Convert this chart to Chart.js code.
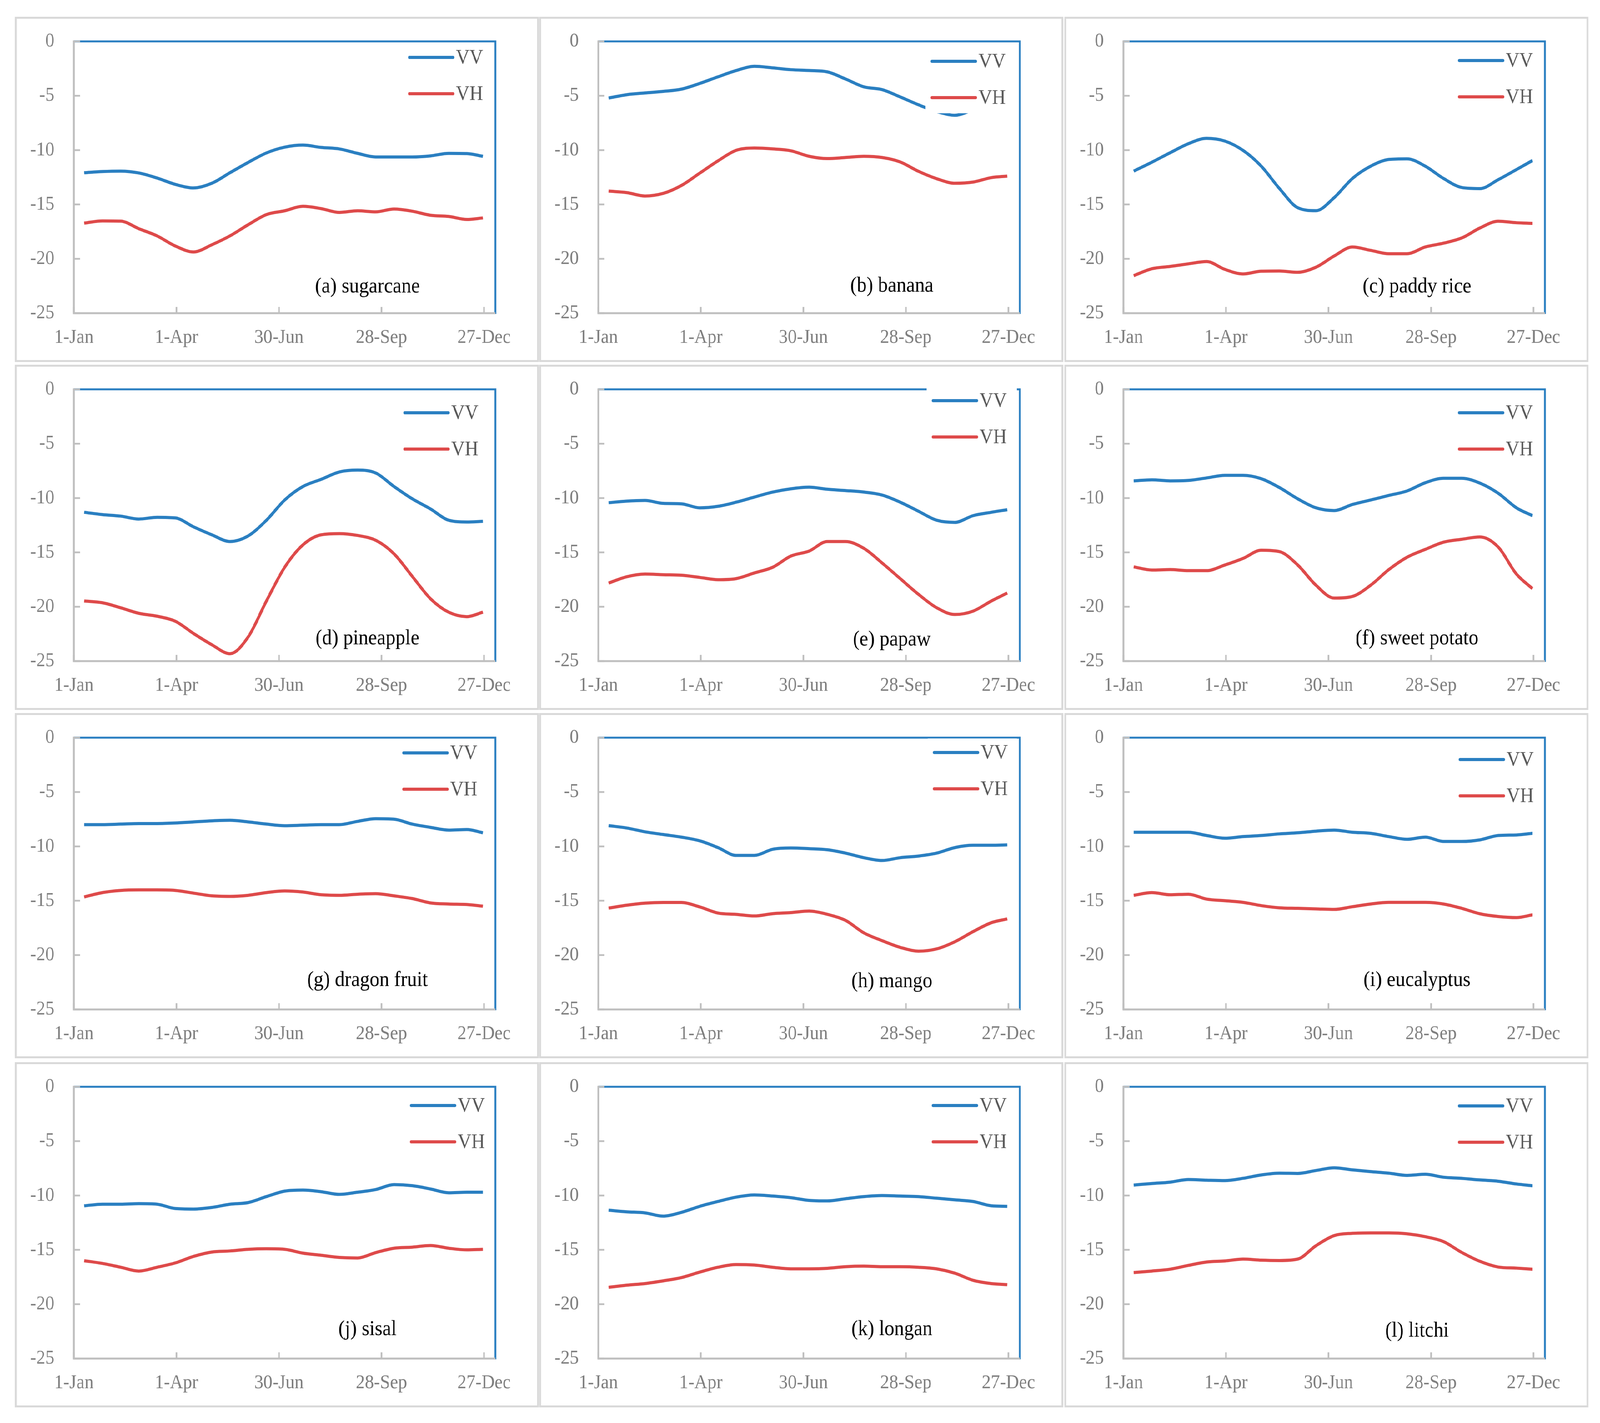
<!DOCTYPE html>
<html lang="en">
<head>
<meta charset="UTF-8">
<title>VV / VH profiles by crop</title>
<script src="https://cdn.jsdelivr.net/npm/chart.js"></script>
<style>
  html, body { margin: 0; background: #fff; overflow: hidden; }
  .viewport { position: relative; width: 100vw; height: 100vh; overflow: hidden; }
  .wrap { position: absolute; left: 0; top: 0; width: 4415px; height: 3644px; transform-origin: 0 0; }
  .panel {
    position: absolute;
    width: 1446px;
    height: 884px;
    box-sizing: border-box;
    border: 5px solid #d9d9d9;
    background: #fff;
  }
  .panel canvas { display: block; }
</style>
</head>
<body>
<div class="viewport"><div class="wrap" id="wrap"></div></div>
<script>
// sample dates (day of year) and axis ticks
const days = [10, 26, 42, 58, 74, 90, 106, 122, 138, 154, 170, 186, 202, 218, 234, 250, 266, 282, 298, 314, 330, 346, 360];
const tickDays = [1, 91, 181, 271, 361];
const tickLabels = ['1-Jan', '1-Apr', '30-Jun', '28-Sep', '27-Dec'];

const sugarcaneVV = [-12.08, -11.97, -11.93, -12.1, -12.57, -13.15, -13.48, -13.05, -12.08, -11.13, -10.26, -9.73, -9.54, -9.75, -9.89, -10.3, -10.63, -10.63, -10.63, -10.53, -10.3, -10.32, -10.57];
const sugarcaneVH = [-16.71, -16.51, -16.53, -17.23, -17.89, -18.82, -19.37, -18.71, -17.89, -16.86, -15.93, -15.58, -15.17, -15.38, -15.73, -15.58, -15.68, -15.42, -15.62, -15.99, -16.1, -16.38, -16.24];
const bananaVV = [-5.21, -4.9, -4.74, -4.6, -4.39, -3.87, -3.26, -2.68, -2.29, -2.43, -2.6, -2.68, -2.8, -3.46, -4.18, -4.43, -5.11, -5.83, -6.45, -6.8, -6.3, -5.8, -5.4];
const bananaVH = [-13.77, -13.91, -14.22, -13.98, -13.25, -12.12, -10.99, -10.02, -9.81, -9.89, -10.06, -10.57, -10.78, -10.68, -10.57, -10.68, -11.09, -11.95, -12.63, -13.05, -12.94, -12.53, -12.39];
const paddyVV = [-11.93, -11.11, -10.24, -9.41, -8.92, -9.17, -10.03, -11.48, -13.54, -15.3, -15.57, -14.37, -12.61, -11.48, -10.86, -10.8, -11.48, -12.61, -13.44, -13.54, -12.72, -11.79, -10.96];
const paddyVH = [-21.55, -20.91, -20.7, -20.46, -20.25, -20.97, -21.39, -21.14, -21.12, -21.24, -20.77, -19.74, -18.91, -19.22, -19.53, -19.53, -18.91, -18.56, -18.08, -17.16, -16.54, -16.68, -16.74];
const pineappleVV = [-11.31, -11.52, -11.66, -11.93, -11.77, -11.83, -12.65, -13.38, -14.0, -13.48, -12.04, -10.18, -8.94, -8.28, -7.6, -7.43, -7.7, -8.94, -10.07, -11.0, -12.04, -12.2, -12.14];
const pineappleVH = [-19.47, -19.63, -20.09, -20.6, -20.87, -21.33, -22.46, -23.49, -24.32, -22.77, -19.47, -16.37, -14.31, -13.38, -13.27, -13.44, -13.89, -15.13, -17.2, -19.26, -20.5, -20.91, -20.5];
const papawVV = [-10.43, -10.28, -10.22, -10.49, -10.53, -10.9, -10.76, -10.38, -9.91, -9.45, -9.15, -9.0, -9.19, -9.31, -9.45, -9.72, -10.38, -11.21, -12.04, -12.24, -11.62, -11.31, -11.07];
const papawVH = [-17.82, -17.24, -16.99, -17.05, -17.1, -17.3, -17.51, -17.41, -16.89, -16.37, -15.34, -14.88, -14.0, -14.0, -14.62, -15.96, -17.41, -18.85, -20.09, -20.71, -20.4, -19.47, -18.74];
const sweetPotatoVV = [-8.42, -8.32, -8.42, -8.38, -8.15, -7.91, -7.91, -8.22, -9.04, -10.07, -10.9, -11.15, -10.59, -10.18, -9.76, -9.35, -8.59, -8.18, -8.18, -8.63, -9.56, -10.9, -11.62];
const sweetPotatoVH = [-16.33, -16.62, -16.58, -16.68, -16.68, -16.16, -15.55, -14.8, -14.93, -16.16, -18.02, -19.2, -19.05, -18.02, -16.58, -15.44, -14.72, -14.06, -13.79, -13.58, -14.51, -16.99, -18.33];
const dragonFruitVV = [-8.0, -8.0, -7.95, -7.9, -7.9, -7.85, -7.75, -7.65, -7.6, -7.75, -7.95, -8.1, -8.05, -8.0, -8.0, -7.7, -7.45, -7.5, -7.95, -8.25, -8.5, -8.45, -8.75];
const dragonFruitVH = [-14.65, -14.25, -14.05, -14.0, -14.0, -14.05, -14.3, -14.55, -14.6, -14.5, -14.25, -14.1, -14.2, -14.45, -14.5, -14.4, -14.35, -14.55, -14.8, -15.2, -15.3, -15.35, -15.5];
const mangoVV = [-8.09, -8.31, -8.66, -8.91, -9.15, -9.49, -10.11, -10.83, -10.83, -10.27, -10.15, -10.21, -10.31, -10.62, -11.04, -11.3, -11.04, -10.89, -10.62, -10.11, -9.9, -9.9, -9.86];
const mangoVH = [-15.68, -15.41, -15.22, -15.16, -15.16, -15.57, -16.13, -16.25, -16.4, -16.19, -16.09, -15.95, -16.25, -16.81, -17.95, -18.67, -19.29, -19.64, -19.43, -18.77, -17.84, -17.02, -16.67];
const eucalyptusVV = [-8.7, -8.7, -8.7, -8.7, -9.0, -9.25, -9.1, -9.0, -8.85, -8.75, -8.6, -8.5, -8.7, -8.8, -9.1, -9.35, -9.15, -9.55, -9.55, -9.4, -9.0, -8.95, -8.8];
const eucalyptusVH = [-14.5, -14.25, -14.45, -14.4, -14.85, -15.0, -15.15, -15.45, -15.65, -15.7, -15.75, -15.8, -15.55, -15.3, -15.15, -15.15, -15.15, -15.3, -15.7, -16.2, -16.45, -16.55, -16.3];
const sisalVV = [-10.95, -10.8, -10.8, -10.75, -10.8, -11.2, -11.25, -11.1, -10.8, -10.65, -10.1, -9.6, -9.5, -9.65, -9.9, -9.7, -9.45, -9.0, -9.1, -9.4, -9.75, -9.7, -9.7];
const sisalVH = [-16.0, -16.25, -16.6, -16.95, -16.6, -16.2, -15.6, -15.2, -15.1, -14.95, -14.9, -14.95, -15.3, -15.5, -15.7, -15.75, -15.25, -14.85, -14.75, -14.6, -14.85, -15.0, -14.95];
const longanVV = [-11.35, -11.5, -11.6, -11.9, -11.55, -11.0, -10.55, -10.15, -9.95, -10.05, -10.2, -10.45, -10.5, -10.3, -10.1, -10.0, -10.05, -10.1, -10.25, -10.4, -10.55, -10.95, -11.0];
const longanVH = [-18.45, -18.25, -18.1, -17.85, -17.55, -17.05, -16.6, -16.35, -16.4, -16.6, -16.75, -16.75, -16.7, -16.55, -16.5, -16.55, -16.55, -16.6, -16.75, -17.15, -17.8, -18.1, -18.2];
const litchiVV = [-9.04, -8.9, -8.77, -8.53, -8.59, -8.63, -8.42, -8.11, -7.95, -7.97, -7.7, -7.45, -7.64, -7.8, -7.95, -8.15, -8.05, -8.32, -8.42, -8.57, -8.69, -8.94, -9.1];
const litchiVH = [-17.09, -16.95, -16.78, -16.43, -16.12, -16.02, -15.85, -15.95, -15.98, -15.85, -14.62, -13.69, -13.48, -13.44, -13.44, -13.52, -13.79, -14.24, -15.24, -16.06, -16.58, -16.68, -16.78];

const titles = ['(a) sugarcane', '(b) banana', '(c) paddy rice', '(d) pineapple', '(e) papaw', '(f) sweet potato',
                '(g) dragon fruit', '(h) mango', '(i) eucalyptus', '(j) sisal', '(k) longan', '(l) litchi'];
const vvSeries = [sugarcaneVV, bananaVV, paddyVV, pineappleVV, papawVV, sweetPotatoVV, dragonFruitVV, mangoVV, eucalyptusVV, sisalVV, longanVV, litchiVV];
const vhSeries = [sugarcaneVH, bananaVH, paddyVH, pineappleVH, papawVH, sweetPotatoVH, dragonFruitVH, mangoVH, eucalyptusVH, sisalVH, longanVH, litchiVH];

// layout (px): legend placement per panel, caption height per panel
const legendX = [237, 242, 236, 250, 239, 236, 253, 236, 234, 232, 239, 236];
const legendY = [41, 51, 49, 60, 29, 60, 39, 38, 56, 48, 48, 49];
const titleY = [629, 627, 629, 639, 642, 639, 622, 625, 622, 622, 622, 626];
const colLeft = [41, 1488, 2937];
const rowTop = [43, 934, 1826, 2720];

const BLUE = '#2a7fc1';
const RED = '#de4a4a';
const AXIS_GRAY = '#bfbfbf';
const SERIF = '"Liberation Serif", "Times New Roman", serif';

Chart.defaults.font.family = SERIF;

// the figure is laid out at 4415 x 3644 and stretched to fill whatever viewport we get
const sx = window.innerWidth / 4415;
const sy = window.innerHeight / 3644;
const wrap = document.getElementById('wrap');
wrap.style.transform = 'scale(' + sx + ',' + sy + ')';
const pixelRatio = Math.max(1, Math.max(sx, sy) * (window.devicePixelRatio || 1));

// axis lines drawn by hand: gray left/bottom, blue top/right, inner tick marks
const framePlugin = {
    id: 'frame',
    beforeDatasetsDraw(chart) {
        const { ctx, chartArea: a, scales } = chart;
        ctx.save();
        ctx.lineWidth = 5;
        ctx.strokeStyle = BLUE;
        ctx.beginPath();
        ctx.moveTo(a.left, a.top);
        ctx.lineTo(a.right, a.top);
        ctx.lineTo(a.right, a.bottom + 2);
        ctx.stroke();

        ctx.strokeStyle = AXIS_GRAY;
        ctx.beginPath();
        ctx.moveTo(a.left, a.top - 2.5);
        ctx.lineTo(a.left, a.bottom);
        ctx.lineTo(a.right, a.bottom);
        ctx.stroke();

        ctx.lineWidth = 4.5;
        ctx.beginPath();
        scales.y.ticks.forEach(t => {
            const y = scales.y.getPixelForValue(t.value);
            ctx.moveTo(a.left, y);
            ctx.lineTo(a.left + 17, y);
        });
        scales.x.ticks.forEach(t => {
            const x = scales.x.getPixelForValue(t.value);
            ctx.moveTo(x, a.bottom);
            ctx.lineTo(x, a.bottom - 16);
        });
        ctx.stroke();
        ctx.restore();
    }
};

// legend in a white box inside the plot, plus the panel caption
const overlayPlugin = {
    id: 'overlay',
    afterDatasetsDraw(chart, args, opts) {
        const { ctx, chartArea: a } = chart;
        const lx = a.right - opts.legendX;
        const ly = a.top + opts.legendY;
        ctx.save();
        ctx.fillStyle = '#fff';
        ctx.fillRect(lx - 18, ly - 36, opts.legendX + 10, 93 + 76);

        chart.data.datasets.forEach((ds, i) => {
            const y = ly + i * 93;
            ctx.strokeStyle = ds.borderColor;
            ctx.lineWidth = 8;
            ctx.lineCap = 'round';
            ctx.beginPath();
            ctx.moveTo(lx, y);
            ctx.lineTo(lx + 120, y);
            ctx.stroke();
            ctx.fillStyle = '#595959';
            ctx.font = '52px ' + SERIF;
            ctx.textAlign = 'left';
            ctx.textBaseline = 'middle';
            ctx.fillText(ds.label, lx + 128, y + 2);
        });

        ctx.fillStyle = '#000';
        ctx.font = '54px ' + SERIF;
        ctx.textAlign = 'center';
        ctx.textBaseline = 'middle';
        ctx.fillText(opts.title, a.left + 810, a.top + opts.titleY);
        ctx.restore();
    }
};

function toPoints(values) {
    return values.map((v, i) => ({ x: days[i], y: v }));
}

titles.forEach((title, i) => {
    const panel = document.createElement('div');
    panel.className = 'panel';
    panel.style.left = colLeft[i % 3] + 'px';
    panel.style.top = rowTop[Math.floor(i / 3)] + 'px';
    const canvas = document.createElement('canvas');
    canvas.width = 1436;
    canvas.height = 874;
    panel.appendChild(canvas);
    wrap.appendChild(panel);

    new Chart(canvas, {
        type: 'line',
        data: {
            datasets: [
                { label: 'VV', data: toPoints(vvSeries[i]), borderColor: BLUE, borderWidth: 8, pointRadius: 0, cubicInterpolationMode: 'monotone', fill: false },
                { label: 'VH', data: toPoints(vhSeries[i]), borderColor: RED, borderWidth: 8, pointRadius: 0, cubicInterpolationMode: 'monotone', fill: false }
            ]
        },
        options: {
            responsive: false,
            animation: false,
            devicePixelRatio: pixelRatio,
            layout: { padding: { top: 58, right: 115, left: 0, bottom: 0 } },
            plugins: {
                legend: { display: false },
                tooltip: { enabled: false },
                overlay: { title: title, legendX: legendX[i], legendY: legendY[i], titleY: titleY[i] }
            },
            scales: {
                x: {
                    type: 'linear',
                    min: 1,
                    max: 371,
                    afterBuildTicks: s => { s.ticks = tickDays.map(v => ({ value: v })); },
                    // fixed axis band; drop the label overhang so the plot box stays put
                    afterFit: s => { s.height = 120; s.paddingLeft = 0; s.paddingRight = 0; },
                    grid: { display: false, drawTicks: false },
                    border: { display: false },
                    ticks: {
                        autoSkip: false,
                        maxRotation: 0,
                        padding: 33,
                        color: '#7f7f7f',
                        font: { size: 50 },
                        callback: v => tickLabels[tickDays.indexOf(v)]
                    }
                },
                y: {
                    min: -25,
                    max: 0,
                    afterFit: s => { s.width = 158; s.paddingTop = 0; s.paddingBottom = 0; },
                    grid: { display: false, drawTicks: false },
                    border: { display: false },
                    ticks: {
                        stepSize: 5,
                        padding: 54,
                        color: '#7f7f7f',
                        font: { size: 50 }
                    }
                }
            }
        },
        plugins: [framePlugin, overlayPlugin]
    });
});
</script>
</body>
</html>
